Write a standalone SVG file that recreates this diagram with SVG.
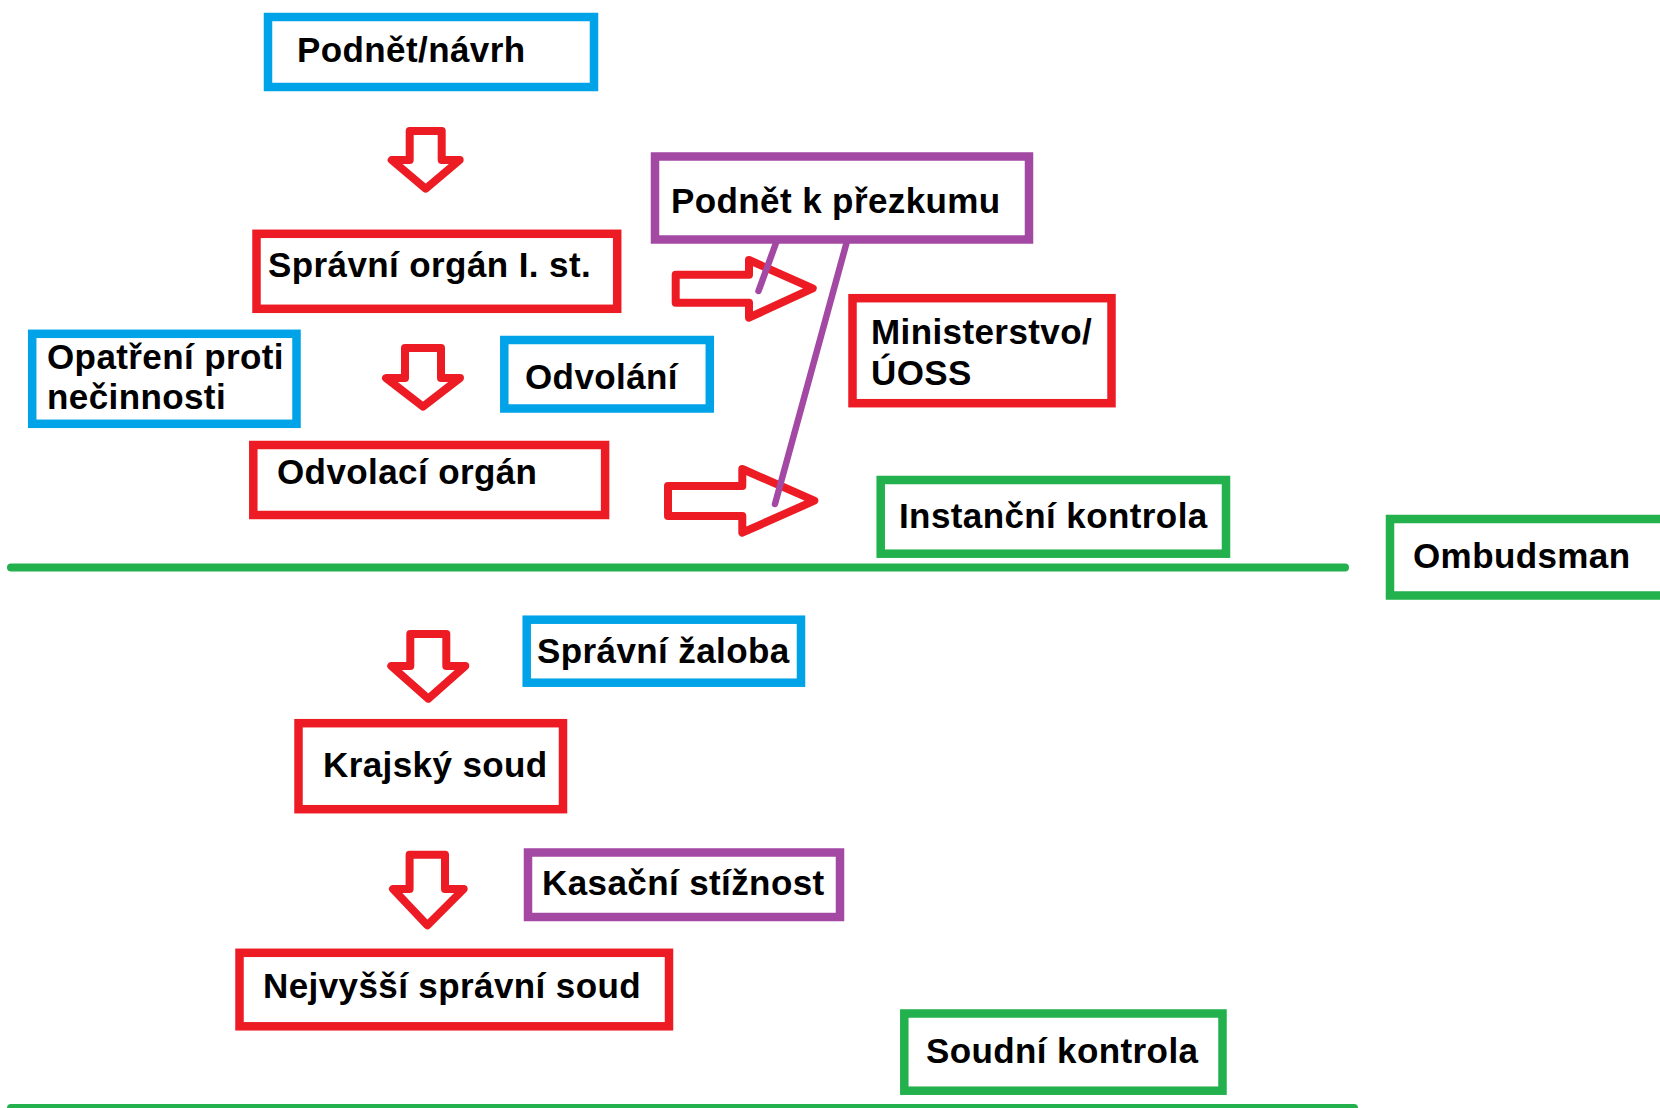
<svg xmlns="http://www.w3.org/2000/svg" width="1660" height="1108" viewBox="0 0 1660 1108">
<style>
.box{fill:#fff;stroke-width:8.5}
.b{stroke:#00A2E8}
.r{stroke:#ED1C24}
.g{stroke:#22B14C}
.p{stroke:#A349A4}
text{font-family:"Liberation Sans",Arial,sans-serif;font-weight:bold;font-size:35px;letter-spacing:0.4px;fill:#000}
.arrow{fill:#fff;stroke:#ED1C24;stroke-width:8;stroke-linejoin:round}
.link{stroke:#A349A4;stroke-width:6.5;stroke-linecap:round;fill:none}
.sep{stroke:#22B14C;stroke-width:8;stroke-linecap:round;fill:none}
</style>
<rect width="1660" height="1108" fill="#fff"/>
<g id="separators">
<line class="sep" x1="11" y1="567.5" x2="1345" y2="567.5"/>
<line class="sep" x1="11" y1="1108" x2="1354" y2="1108"/>
</g>
<g id="n-podnet-navrh"><rect class="box b" x="268" y="17" width="326" height="70" stroke-width="10"/><text x="297" y="62">Podnět/návrh</text></g>
<g id="n-spravni-organ"><rect class="box r" x="256.5" y="233.8" width="360.7" height="75"/><text x="268" y="277">Správní orgán I. st.</text></g>
<g id="n-opatreni"><rect class="box b" x="32.2" y="333.8" width="264.3" height="90"/><text x="47" y="369">Opatření proti</text><text x="47" y="409">nečinnosti</text></g>
<g id="n-odvolani"><rect class="box b" x="504.3" y="340" width="205.5" height="68.5"/><text x="525" y="389">Odvolání</text></g>
<g id="n-odvolaci-organ"><rect class="box r" x="253.3" y="445" width="351.8" height="70"/><text x="277" y="484">Odvolací orgán</text></g>
<g id="n-podnet-prezkum"><rect class="box p" x="655" y="156.5" width="374" height="83"/><text x="671" y="213">Podnět k přezkumu</text></g>
<g id="n-ministerstvo"><rect class="box r" x="852.5" y="298.2" width="259" height="105"/><text x="871" y="344">Ministerstvo/</text><text x="871" y="385">ÚOSS</text></g>
<g id="n-instancni"><rect class="box g" x="880.7" y="480" width="345.3" height="73.7"/><text x="899" y="528">Instanční kontrola</text></g>
<g id="n-ombudsman"><rect class="box g" x="1390" y="519" width="300" height="76.5"/><text x="1413" y="568">Ombudsman</text></g>
<g id="n-spravni-zaloba"><rect class="box b" x="526.7" y="619.7" width="274.3" height="63"/><text x="537" y="663">Správní žaloba</text></g>
<g id="n-krajsky-soud"><rect class="box r" x="298.5" y="723.2" width="264.5" height="86"/><text x="323" y="777">Krajský soud</text></g>
<g id="n-kasacni"><rect class="box p" x="528" y="852.5" width="312" height="64.5"/><text x="542" y="895">Kasační stížnost</text></g>
<g id="n-nss"><rect class="box r" x="239.5" y="952.8" width="429.5" height="73.5"/><text x="263" y="998">Nejvyšší správní soud</text></g>
<g id="n-soudni-kontrola"><rect class="box g" x="904.3" y="1013.5" width="318.2" height="77.2"/><text x="926" y="1063">Soudní kontrola</text></g>
<g id="connectors">
<path class="arrow" d="M409.7,131 H441.7 V160 H459.7 L425.7,188.7 L391.7,160 H409.7 Z"/>
<path class="arrow" d="M405,348 H441 V378 H460 L423,406.7 L386,378 H405 Z"/>
<path class="arrow" d="M410.3,634 H446.3 V666 H465.3 L428.3,698.7 L391.3,666 H410.3 Z"/>
<path class="arrow" d="M409.6,854.7 H445 V889 H463.7 L427.3,925.3 L393,889 H409.6 Z"/>
<path class="arrow" d="M675.7,274.7 H749 V260 L812.7,288.3 L749,317.7 V302.7 H675.7 Z"/>
<path class="arrow" d="M668,486 H742.3 V469 L814.3,500.7 L742.3,532.7 V516 H668 Z"/>
<line class="link" x1="776" y1="243" x2="758.5" y2="291"/>
<line class="link" x1="846.5" y1="243" x2="775" y2="504"/>
</g>
</svg>
